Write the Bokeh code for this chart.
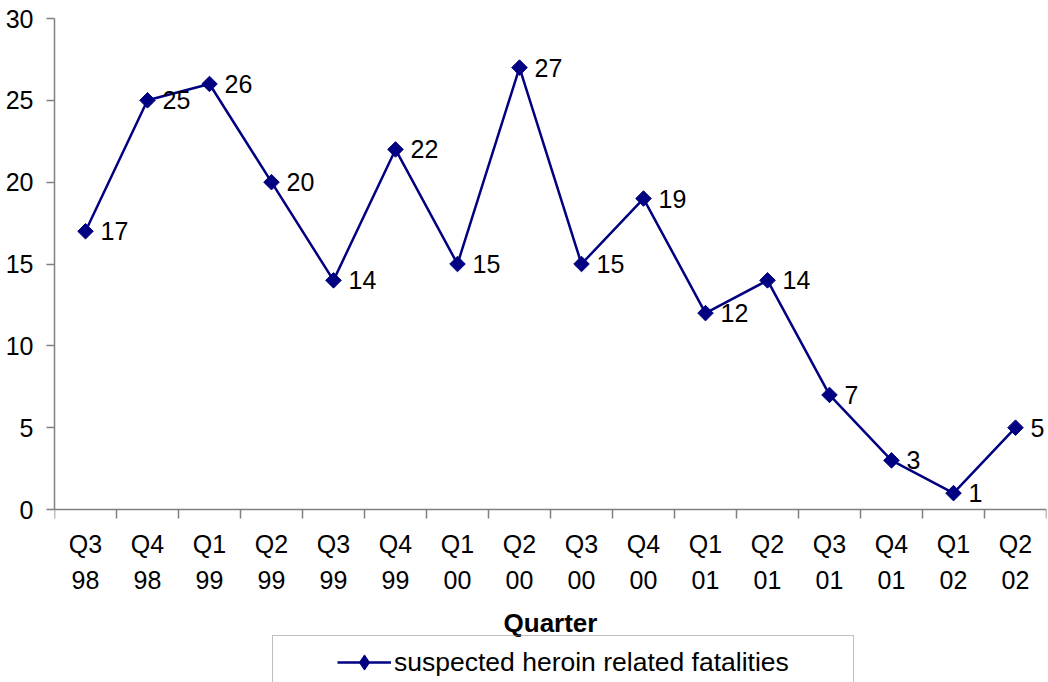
import math
from bokeh.plotting import figure
from bokeh.models import (Range1d, FixedTicker, Legend, LegendItem, ColumnDataSource)
from bokeh.core.properties import value
from bokeh.embed import file_html
from bokeh.resources import INLINE

quarters = ["Q3\n98", "Q4\n98", "Q1\n99", "Q2\n99", "Q3\n99", "Q4\n99",
            "Q1\n00", "Q2\n00", "Q3\n00", "Q4\n00", "Q1\n01", "Q2\n01",
            "Q3\n01", "Q4\n01", "Q1\n02", "Q2\n02"]
fatalities = [17, 25, 26, 20, 14, 22, 15, 27, 15, 19, 12, 14, 7, 3, 1, 5]
y_ticks = [0, 5, 10, 15, 20, 25, 30]
series_name = "suspected heroin related fatalities"
x_title = "Quarter"

NAVY = "#000080"
AXIS = "#808080"
FONT = "Liberation Sans"

n = len(quarters)
idx = list(range(n))
src = ColumnDataSource(dict(x=idx, y=fatalities, lbl=[str(v) for v in fatalities]))

# frame spans to the bottom of the canvas; the x axis sits at y = 0
W, H = 1048, 682
top_px, zero_px = 18, 509
y_max = 30
y_min = -y_max * (H - zero_px) / (zero_px - top_px)

p = figure(width=W, height=H, output_backend="svg", toolbar_location=None,
           x_range=Range1d(-0.5, n - 0.5), y_range=Range1d(y_min, y_max),
           min_border_left=54, min_border_right=2, min_border_top=top_px,
           min_border_bottom=0)
p.xgrid.visible = False
p.ygrid.visible = False
p.outline_line_color = None
p.background_fill_color = "white"
p.border_fill_color = "white"

# x axis
xa = p.xaxis[0]
xa.fixed_location = 0
xa.ticker = FixedTicker(ticks=idx, minor_ticks=[i - 0.5 for i in range(n + 1)])
xa.major_label_overrides = {i: q for i, q in enumerate(quarters)}
xa.major_tick_out = 0
xa.major_tick_in = 0
xa.minor_tick_out = 9
xa.minor_tick_in = 0
xa.minor_tick_line_color = AXIS
xa.minor_tick_line_width = 1.5
xa.axis_line_color = AXIS
xa.axis_line_width = 1.5
xa.major_label_text_font = FONT
xa.major_label_text_font_size = "25px"
xa.major_label_text_color = "black"
xa.major_label_text_line_height = 1.32
xa.major_label_standoff = 11
xa.axis_label = x_title
xa.axis_label_text_font = FONT
xa.axis_label_text_font_size = "26px"
xa.axis_label_text_font_style = "bold"
xa.axis_label_text_color = "black"
xa.axis_label_standoff = 11

# y axis
ya = p.yaxis[0]
ya.bounds = (0, y_max)
ya.ticker = FixedTicker(ticks=y_ticks)
ya.major_tick_out = 8
ya.major_tick_in = 0
ya.minor_tick_out = 0
ya.minor_tick_in = 0
ya.major_tick_line_color = AXIS
ya.major_tick_line_width = 1.5
ya.axis_line_color = AXIS
ya.axis_line_width = 1.5
ya.major_label_text_font = FONT
ya.major_label_text_font_size = "25px"
ya.major_label_text_color = "black"
ya.major_label_standoff = 13

line_r = p.line("x", "y", source=src, line_color=NAVY, line_width=2.5)
pts_r = p.scatter("x", "y", source=src, marker="square", angle=math.pi / 4,
                  size=11, fill_color=NAVY, line_color=NAVY)
p.text("x", "y", text="lbl", source=src, x_offset=15, text_baseline="middle",
       text_align="left", text_font=value(FONT), text_font_size="25px",
       text_color="black")

# legend-only renderers (hidden in the plot)
leg_pts = p.scatter("x", "y", source=src, marker="diamond",
                    fill_color=NAVY, line_color=NAVY, visible=False)
spacer = p.line("x", "y", source=src, line_alpha=0, visible=False)

legend = Legend(items=[LegendItem(label="", renderers=[spacer]),
                       LegendItem(label=series_name, renderers=[line_r, leg_pts]),
                       LegendItem(label="", renderers=[spacer])],
                location=(218, -7), orientation="horizontal",
                border_line_color=AXIS, border_line_width=1.5,
                background_fill_alpha=0,
                padding=6, spacing=1, margin=0, glyph_width=54, glyph_height=38,
                label_height=40, label_width=0, label_standoff=3,
                label_text_font=FONT, label_text_font_size="26.5px",
                label_text_color="black")
p.add_layout(legend)

open("out.html", "w").write(file_html(p, INLINE))
